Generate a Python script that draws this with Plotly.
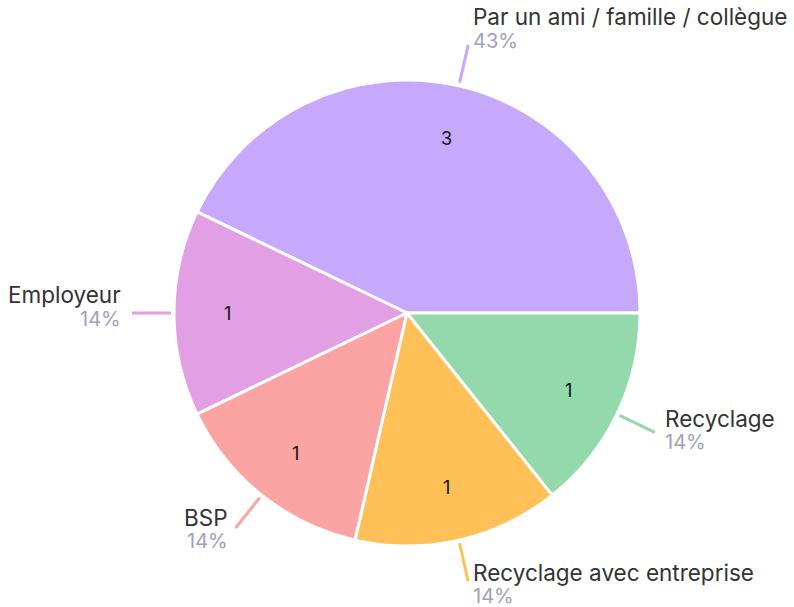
import math
import plotly.graph_objects as go

# ---- data ----
labels = ["Par un ami / famille / collègue", "Employeur", "BSP",
          "Recyclage avec entreprise", "Recyclage"]
values = [3, 1, 1, 1, 1]
colors = ["#c6a8fd", "#e39fe3", "#fca4a4", "#ffc157", "#93d9ab"]

# ---- layout constants ----
W, H = 794, 607
CX, CY, R = 407, 313, 233          # pie centre / radius (pixels)
LINE_IN, LINE_OUT = 236, 275       # leader line radii
INNER_R = 0.77                     # inner value label radius (fraction)
FONT = "Inter"
LABEL_COLOR = "#333333"
PCT_COLOR = "#a0a0ba"

def px_to_paper(x, y):
    return x / W, 1 - y / H

total = sum(values)
# plotly counterclockwise pies put the first slice *ending* at `rotation`
start_rot = 90 - 360 * values[0] / total

fig = go.Figure()
fig.add_trace(go.Pie(
    labels=labels, values=values, sort=False, direction="counterclockwise",
    rotation=start_rot, marker=dict(colors=colors, line=dict(color="white", width=3)),
    textinfo="none", hoverinfo="label+value+percent", showlegend=False,
    domain=dict(x=[(CX - R) / W, (CX + R) / W],
                y=[1 - (CY + R) / H, 1 - (CY - R) / H]),
))

cum = 0
shapes, annotations = [], []
for lab, v, col in zip(labels, values, colors):
    a = (cum + v / 2) / total * 2 * math.pi   # counterclockwise from 3 o'clock
    cum += v
    ca, sa = math.cos(a), math.sin(a)
    # leader line
    x0, y0 = px_to_paper(CX + LINE_IN * ca, CY - LINE_IN * sa)
    x1, y1 = px_to_paper(CX + LINE_OUT * ca, CY - LINE_OUT * sa)
    shapes.append(dict(type="line", xref="paper", yref="paper",
                       x0=x0, y0=y0, x1=x1, y1=y1,
                       line=dict(color=col, width=3)))
    pct = round(v / total * 100)
    right = ca >= 0
    xs = (1 + 8 * abs(ca)) * (1 if right else -1)
    lab_dy = 18.5 + 10 * sa          # upward shift of the label centre
    common = dict(xref="paper", yref="paper", x=x1, y=y1, showarrow=False,
                  xanchor="left" if right else "right", yanchor="middle",
                  xshift=xs)
    annotations.append(dict(common, yshift=lab_dy, text=lab,
                            font=dict(family=FONT, size=22.5, color=LABEL_COLOR)))
    annotations.append(dict(common, yshift=lab_dy - 24, text=f"{pct}%",
                            font=dict(family=FONT, size=20, color=PCT_COLOR)))
    # inner value
    ix, iy = px_to_paper(CX + INNER_R * R * ca, CY - INNER_R * R * sa)
    annotations.append(dict(
        xref="paper", yref="paper", x=ix, y=iy, showarrow=False,
        xanchor="center", yanchor="middle", text=str(v),
        font=dict(family=FONT, size=18, color="#111111"),
    ))

fig.update_layout(
    width=W, height=H, margin=dict(l=0, r=0, t=0, b=0),
    paper_bgcolor="white", plot_bgcolor="white",
    shapes=shapes, annotations=annotations,
)
fig.write_html("out.html", config={"displayModeBar": False},
               post_script="document.body.style.margin='0';")
